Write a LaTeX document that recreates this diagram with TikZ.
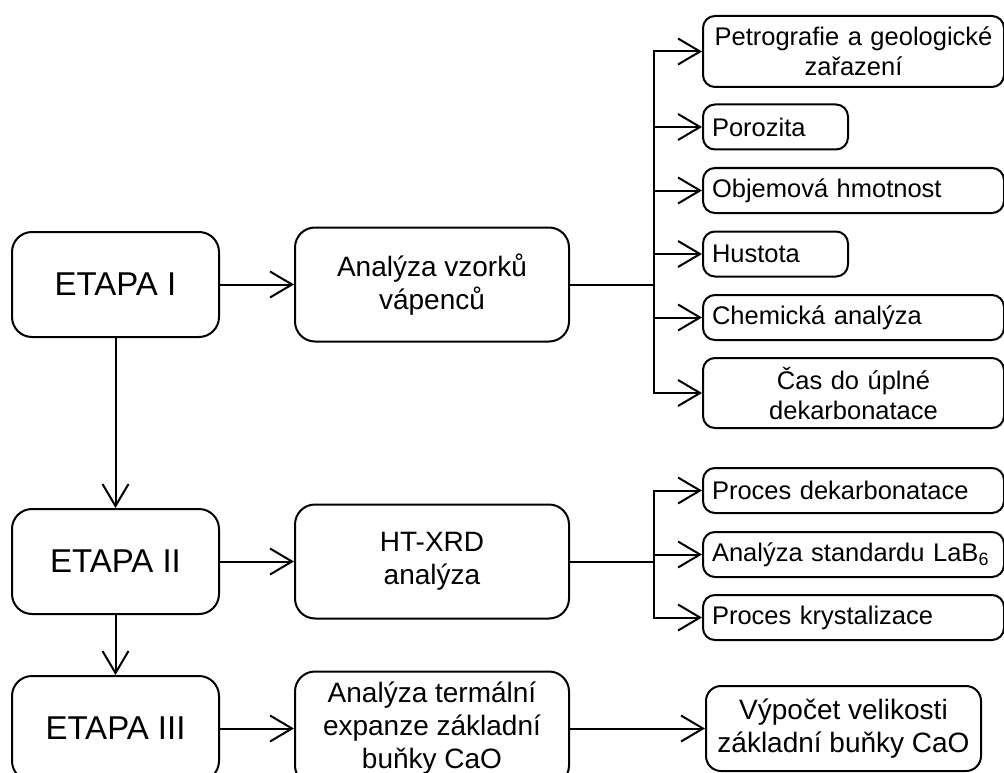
\documentclass[tikz,border=0pt]{standalone}
\usepackage{fontspec}
\setmainfont{Liberation Sans}
\usepackage{tikz}
\usetikzlibrary{positioning,arrows.meta}
\newcommand{\etapaSize}[0]{\fontsize{33}{40}\selectfont}
\newcommand{\krokSize}[0]{\fontsize{28}{33}\selectfont}
\newcommand{\vysledekSize}[0]{\fontsize{25.5}{30}\selectfont}

\begin{document}
\begin{tikzpicture}[x=1pt, y=-1pt, line width=2pt]
  \tikzset{
    etapa/.style={draw, rounded corners=20pt, minimum width=207pt, minimum height=105pt, font=\etapaSize},
    krok/.style={draw, rounded corners=20pt, minimum width=274pt, minimum height=114pt, inner sep=3pt, align=center, font=\krokSize},
    vysledek/.style={draw, rounded corners=12pt, anchor=west, inner xsep=9pt, inner ysep=0pt, minimum height=45pt, text width=283pt, align=left, font=\vysledekSize},
    kratky/.style={vysledek, text width=127pt},
    sipka/.style={-{Straight Barb[length=22pt, width=26pt]}}
  }
  \useasboundingbox (0,0) rectangle (1004,773);
  \node[etapa] (e1) at (115.5,284.5) {ETAPA I};
  \node[etapa, below=170pt of e1] (e2) {ETAPA II};
  \node[etapa, below=60pt of e2] (e3) {ETAPA III};
  \node[krok, right=74pt of e1] (vzorky) {Analýza vzorků\\vápenců};
  \node[krok, right=74pt of e2] (htxrd) {HT-XRD\\analýza};
  \node[krok, right=74pt of e3] (expanze) {Analýza termální\\expanze základní\\buňky CaO};
  \node[krok, right=135pt of expanze, minimum width=275pt, minimum height=85pt, rounded corners=15pt] (vypocet) {Výpočet velikosti\\základní buňky CaO};
  \coordinate[right=84pt of vzorky.east] (rozdel1);
  \coordinate[right=84pt of htxrd.east] (rozdel2);
  \node[vysledek, align=center, minimum height=71pt] (petro) at (702,51.5) {Petrografie a geologické\\zařazení};
  \node[kratky] (poro) at (702,127) {Porozita};
  \node[vysledek] (objem) at (702,190.5) {Objemová hmotnost};
  \node[kratky] (hust) at (702,254) {Hustota};
  \node[vysledek] (chem) at (702,317.5) {Chemická analýza};
  \node[vysledek, align=center, minimum height=70pt] (cas) at (702,393) {Čas do úplné\\dekarbonatace};
  \node[vysledek] (dekarb) at (702,490.5) {Proces dekarbonatace};
  \node[vysledek] (lab) at (702,554.5) {Analýza standardu LaB\textsubscript{6}};
  \node[vysledek] (kryst) at (702,617.5) {Proces krystalizace};
  \draw[sipka] (e1) -- (vzorky);
  \draw[sipka] (e1) -- (e2);
  \draw[sipka] (e2) -- (e3);
  \draw[sipka] (e2) -- (htxrd);
  \draw[sipka] (e3) -- (expanze);
  \draw[sipka] (expanze) -- (vypocet);
  \draw (vzorky) -- (rozdel1);
  \foreach \cil in {petro,poro,objem,hust,chem,cas}
    \draw[sipka] (rozdel1) |- (\cil.west);
  \draw (htxrd) -- (rozdel2);
  \foreach \cil in {dekarb,lab,kryst}
    \draw[sipka] (rozdel2) |- (\cil.west);
\end{tikzpicture}
\end{document}
